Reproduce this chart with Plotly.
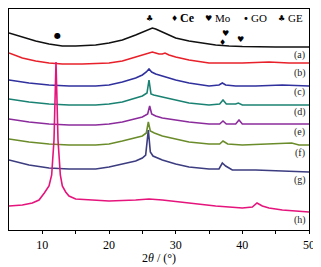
import plotly.graph_objects as go

# Curve key points: 2theta (deg) and intensity (arbitrary, offset-stacked)
a_x = [5, 7, 9, 11, 13, 15, 18, 20, 22, 24, 25, 26, 26.5, 27, 28, 29, 30, 32, 34, 36, 38, 40, 45, 50]
a_y = [197, 193, 189, 186, 184, 184, 185, 187, 190, 195, 198, 201, 202, 201, 198, 195, 192, 189, 187, 185, 184, 183.5, 183, 183]

b_x = [5, 7, 9, 11, 13, 16, 20, 22, 24, 25, 26, 26.5, 27, 27.5, 28, 28.4, 29, 30, 32, 35, 40, 44, 47, 50]
b_y = [177, 172, 169, 167, 166, 166, 167, 169, 173, 175, 177, 178, 177, 176, 176, 177, 175, 173, 170, 167, 167, 168, 167, 167]

c_x = [5, 8, 11, 14, 18, 20, 22, 24, 25, 25.6, 26, 26.4, 27, 28, 30, 32, 35, 36.5, 37, 37.5, 39, 42, 46, 50]
c_y = [150, 147, 145, 144, 144, 145, 148, 152, 155, 158, 161, 158, 156, 154, 150, 147, 144, 145, 147, 145, 144, 144, 145, 144]

d_x = [5, 8, 11, 14, 18, 20, 22, 24, 25, 25.7, 26.0, 26.3, 26.7, 28, 30, 32, 35, 36.6, 37.1, 37.6, 39, 39.4, 40, 45, 50]
d_y = [131, 128, 126, 125, 125, 126, 128, 132, 134, 137, 150, 136, 135, 133, 130, 127, 125, 126, 130, 126, 126, 127, 125, 125, 125]

e_x = [5, 8, 11, 14, 18, 20, 22, 24, 25, 25.8, 26.1, 26.4, 27, 28, 30, 32, 35, 36.6, 37.1, 37.6, 39, 39.5, 40, 45, 50]
e_y = [111, 108, 106, 105, 105, 106, 108, 111, 113, 116, 124, 116, 114, 112, 110, 108, 106, 106, 109, 106, 106, 110, 106, 106, 106]

f_x = [5, 8, 11, 14, 18, 20, 22, 24, 25, 25.6, 25.9, 26.2, 26.8, 28, 30, 32, 35, 36.6, 37.1, 37.8, 40, 45, 47.4, 48.5, 50]
f_y = [91, 88, 86, 85, 85, 86, 89, 92, 94, 97, 108, 99, 97, 94, 91, 88, 86, 86, 89, 86, 85, 86, 87, 85, 85]

g_x = [5, 8, 11, 14, 18, 20, 22, 24, 25, 25.5, 25.9, 26.2, 26.6, 28, 30, 32, 35, 36.5, 37.0, 37.5, 38.5, 42, 46, 50]
g_y = [70, 65, 62, 61, 61, 63, 66, 69, 72, 75, 100, 78, 74, 70, 66, 63, 61, 61, 67, 64, 60, 60, 59, 58]

h_x = [5, 7, 8.5, 9.5, 10.3, 11, 11.4, 11.75, 12.05, 12.35, 12.7, 13, 13.5, 14, 15, 17, 20, 24, 26, 28, 32, 36, 40, 41.5, 42.2, 42.5, 43, 44, 46, 50]
h_y = [24, 25, 27, 30, 37, 44, 55, 90, 168, 90, 55, 44, 38, 34, 31, 30, 29, 30, 31, 30, 27, 24, 22, 23, 27, 26, 24, 22, 20, 18]

series = [
    ("(a)", a_x, a_y, "#111111", 175),
    ("(b)", b_x, b_y, "#e8202a", 157),
    ("(c)", c_x, c_y, "#30309e", 138),
    ("(d)", d_x, d_y, "#1a8272", 118),
    ("(e)", e_x, e_y, "#8c2c9c", 98),
    ("(f)", f_x, f_y, "#6b8c2a", 77),
    ("(g)", g_x, g_y, "#3c3c80", 50),
    ("(h)", h_x, h_y, "#e5147c", 10),
]

fig = go.Figure()
annotations = []
for name, xs, ys, col, ly in series:
    fig.add_trace(go.Scatter(x=xs, y=ys, mode="lines", line=dict(color=col, width=1.6),
                             showlegend=False, hoverinfo="skip"))
    annotations.append(dict(x=48.6, y=ly, xref="x", yref="y", text=name, showarrow=False,
                            font=dict(family="Liberation Serif", size=10, color="#222")))

sym_font = dict(family="DejaVu Sans", size=8, color="black")
txt_font = dict(family="Liberation Serif", size=11, color="black")
# peak markers
annotations += [
    dict(x=12.2, y=195, text="●", font=sym_font),
    dict(x=26.0, y=212, text="♣", font=sym_font),
    dict(x=37.0, y=188, text="♦", font=sym_font),
    dict(x=37.5, y=197, text="♥", font=sym_font),
    dict(x=39.7, y=191, text="♥", font=sym_font),
]
# key
annotations += [
    dict(x=29.8, y=212, text="♦", font=sym_font),
    dict(x=31.7, y=212, text="<b>Ce</b>", font=dict(family="Liberation Serif", size=12, color="black")),
    dict(x=34.9, y=212, text="♥", font=sym_font),
    dict(x=37.1, y=212, text="Mo", font=txt_font),
    dict(x=40.5, y=212, text="•", font=dict(family="DejaVu Sans", size=10, color="black")),
    dict(x=42.5, y=212, text="GO", font=txt_font),
    dict(x=45.9, y=212, text="♣", font=sym_font),
    dict(x=48.0, y=212, text="GE", font=txt_font),
]
for an in annotations:
    an.setdefault("xref", "x")
    an.setdefault("yref", "y")
    an.setdefault("showarrow", False)

# page body has an 8px margin; size the figure so the plot lands where the reference has it
fig.update_layout(
    width=313, height=259,
    margin=dict(l=1, r=12, t=1, b=37),
    paper_bgcolor="white", plot_bgcolor="white",
    annotations=annotations,
    font=dict(family="Liberation Serif", size=11, color="black"),
)
fig.update_xaxes(range=[5, 50], tickvals=[10, 20, 30, 40, 50], ticks="outside", ticklen=3,
                 tickcolor="black", showline=True, linecolor="black", linewidth=1.2, mirror=True,
                 showgrid=False, zeroline=False,
                 minor=dict(tickvals=[15, 25, 35, 45], ticks="outside", ticklen=3, tickcolor="black"),
                 tickfont=dict(family="Liberation Serif", size=12),
                 title=dict(text="2<i>θ</i> / (°)", font=dict(family="Liberation Serif", size=12), standoff=0))
fig.update_yaxes(range=[0, 221], showticklabels=False, ticks="", showline=True, linecolor="black",
                 linewidth=1.2, mirror=True, showgrid=False, zeroline=False)

fig.write_html("out.html")
